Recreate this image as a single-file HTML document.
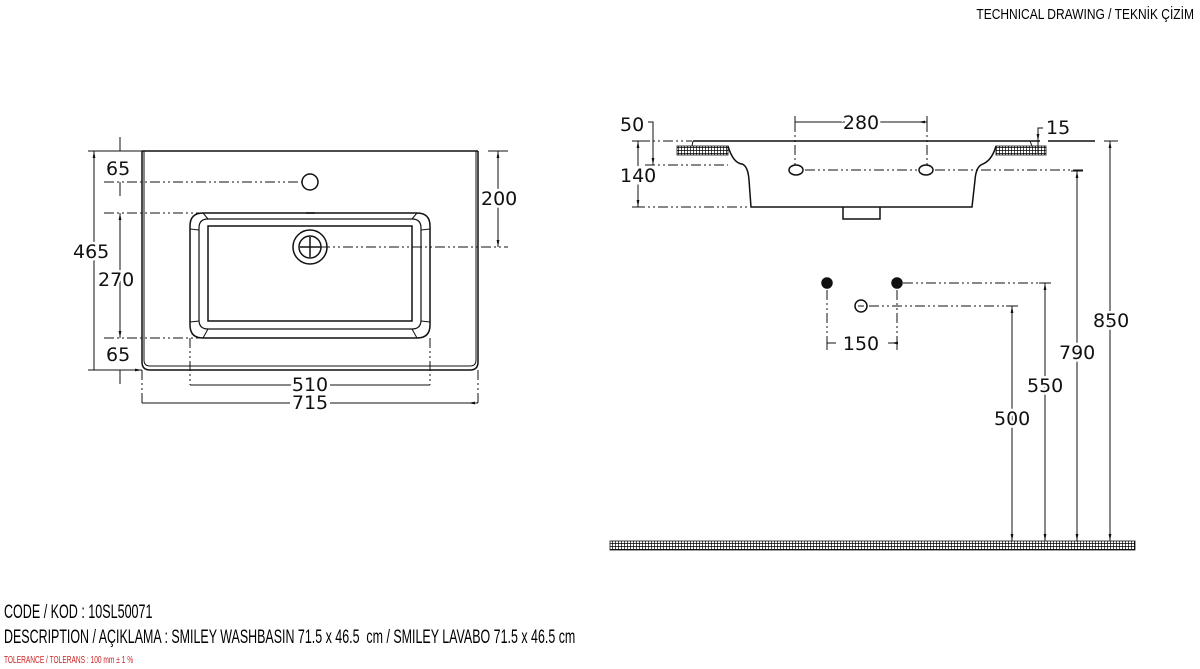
<!DOCTYPE html>
<html><head><meta charset="utf-8"><style>
body{margin:0;background:#fff;width:1200px;height:669px;overflow:hidden;position:relative;font-family:"Liberation Sans Narrow","Liberation Sans",sans-serif}
.t{position:absolute;white-space:nowrap;transform-origin:0 0;color:#000}
</style></head><body>
<svg width="1200" height="669" style="position:absolute;left:0;top:0" xmlns="http://www.w3.org/2000/svg">
<defs>
<pattern id="h" width="3" height="3" patternUnits="userSpaceOnUse"><rect width="3" height="3" fill="#fff"/><path d="M0 0H3M0 0V3" stroke="#000" stroke-width="1.4"/></pattern>
<marker id="a" viewBox="0 0 10 10" refX="10" refY="5" markerWidth="7" markerHeight="7" orient="auto-start-reverse"><path d="M0 3L10 5L0 7z" fill="#111"/></marker>
</defs>
<g fill="none" stroke="#111" stroke-width="1.5">
<path d="M142 151V362Q142 370 150 370H470Q478 370 478 362V151"/>
<path d="M142 151H478"/>
<path d="M144 151V360Q144 366 150 366H470Q476 366 476 360V151" stroke-width="1"/>
<path d="M203 213H417Q430 213 430 226V325Q430 338 417 338H203Q190 338 190 325V226Q190 213 203 213Z"/>
<path d="M208 219H412Q421 219 421 228V320Q421 329 412 329H208Q199 329 199 320V228Q199 219 208 219Z" stroke-width="1.2"/>
<rect x="208" y="226" width="204" height="95"/>
<path d="M190 229L199 230M203 213L208 219M430 229L421 230M417 213L412 219M190 322L199 321M203 338L208 329M430 322L421 321M417 338L412 329" stroke-width="1"/>
<circle cx="310" cy="182" r="8"/>
<circle cx="310" cy="247" r="17"/><circle cx="310" cy="247" r="11"/>
<path d="M300 247H320M310 237V257M306 213H315"/>
<g stroke-dasharray="10 3 2 3 2 3" stroke-width="1">
<path d="M104 182H302M104 213H203M104 338H203M320 247H508M190 338V385M430 338V385M142 370V405M478 370V405"/>
</g>
<g stroke-width="1">
<path d="M94 151V370M88 151H142M88 370H142" marker-start="url(#a)" marker-end="url(#a)"/>
<path d="M120 137V151M120 182V196M120 213V338M120 370V384" />
<path d="M120 213V338" marker-start="url(#a)" marker-end="url(#a)"/>
<path d="M498 151V247M488 151H508" />
<path d="M498 151V247" marker-start="url(#a)" marker-end="url(#a)"/>
<path d="M190 385H295M330 385H430" />
<path d="M142 403H290M330 403H478"/>
<path d="M191 385H200M429 385H420M143 403H152M477 403H468" marker-end="url(#a)"/>
</g>
<path d="M693 141H1040M1048 141H1095"/>
<rect x="677" y="146" width="51" height="9" fill="url(#h)" stroke-width="0.8"/>
<rect x="996" y="146" width="50" height="9" fill="url(#h)" stroke-width="0.8"/>
<path d="M693 141L692 146M1030 141L1032 146" stroke-width="1"/>
<path d="M728 146Q733 163 742 164Q748 166 749 180L751 207H972L975 180Q976 166 983 164Q992 160 996 146" />
<path d="M843 207V219H880V207"/>
<ellipse cx="796" cy="170" rx="7" ry="5"/><ellipse cx="926" cy="170" rx="7" ry="5"/>
<g stroke-dasharray="10 3 2 3 2 3" stroke-width="1">
<path d="M640 141H692M645 165H728M635 207H750M805 170H917M935 170H1085M795 122V165M927 122V165M827 290V343M897 290V343M903 283H1050M869 306H1018"/>
</g>
<g stroke-width="1">
<path d="M795 122H845M880 122H927"/><path d="M796 122H804M926 122H918" marker-end="url(#a)"/>
<path d="M795 116V128M927 116V128"/>
<path d="M648 122H653V165" marker-end="url(#a)"/>
<path d="M638 141V207" marker-start="url(#a)" marker-end="url(#a)"/><path d="M632 141H644M632 207H644"/>
<path d="M1043 128H1038V153" /><path d="M1038 128V141" marker-end="url(#a)"/>
<path d="M827 343H836M897 343H888" /><path d="M827 336V350M897 336V350"/>
<path d="M828 343H833M896 343H891" marker-end="url(#a)"/>
<path d="M1104 141H1118M1071 171H1083M1039 283H1051M1006 306H1018"/>
<path d="M1110 141V541" marker-start="url(#a)" marker-end="url(#a)"/>
<path d="M1077 171V541" marker-start="url(#a)" marker-end="url(#a)"/>
<path d="M1045 283V541" marker-start="url(#a)" marker-end="url(#a)"/>
<path d="M1012 306V541" marker-start="url(#a)" marker-end="url(#a)"/>
</g>
<circle cx="827" cy="283" r="5" fill="#111"/><circle cx="897" cy="283" r="5" fill="#111"/>
<circle cx="861" cy="306" r="6"/><path d="M858 306H864" stroke-width="1"/>
<rect x="610" y="541" width="525" height="9" fill="url(#h)" stroke-width="0.8"/>
</g>
<g font-family="'DejaVu Sans','Liberation Sans',sans-serif" font-size="19" fill="#111" stroke="#fff" stroke-width="5" paint-order="stroke">
<text x="106" y="175">65</text>
<text x="73" y="258">465</text>
<text x="98" y="286">270</text>
<text x="106" y="361">65</text>
<text x="481" y="205">200</text>
<text x="310" y="391" text-anchor="middle">510</text>
<text x="310" y="409" text-anchor="middle">715</text>
<text x="861" y="129" text-anchor="middle">280</text>
<text x="620" y="131" stroke="none">50</text>
<text x="620" y="182">140</text>
<text x="1046" y="134" stroke="none">15</text>
<text x="861" y="350" text-anchor="middle">150</text>
<text x="1093" y="327">850</text>
<text x="1059" y="359">790</text>
<text x="1027" y="392">550</text>
<text x="994" y="425">500</text>
</g>
</svg>
<div class="t" style="right:6px;top:6px;font-size:15px;transform:scaleX(0.8);transform-origin:100% 0">TECHNICAL DRAWING / TEKNİK ÇİZİM</div>
<div class="t" style="left:4px;top:602px;font-size:19px;transform:scaleX(0.66)">CODE / KOD : 10SL50071</div>
<div class="t" style="left:4px;top:627px;font-size:19px;transform:scaleX(0.655)">DESCRIPTION / AÇIKLAMA : SMILEY WASHBASIN 71.5 x 46.5&nbsp; cm / SMILEY LAVABO 71.5 x 46.5 cm</div>
<div class="t" style="left:4px;top:655px;font-size:10px;color:#c22;transform:scaleX(0.66)">TOLERANCE / TOLERANS : 100 mm ± 1 %</div>
</body></html>
